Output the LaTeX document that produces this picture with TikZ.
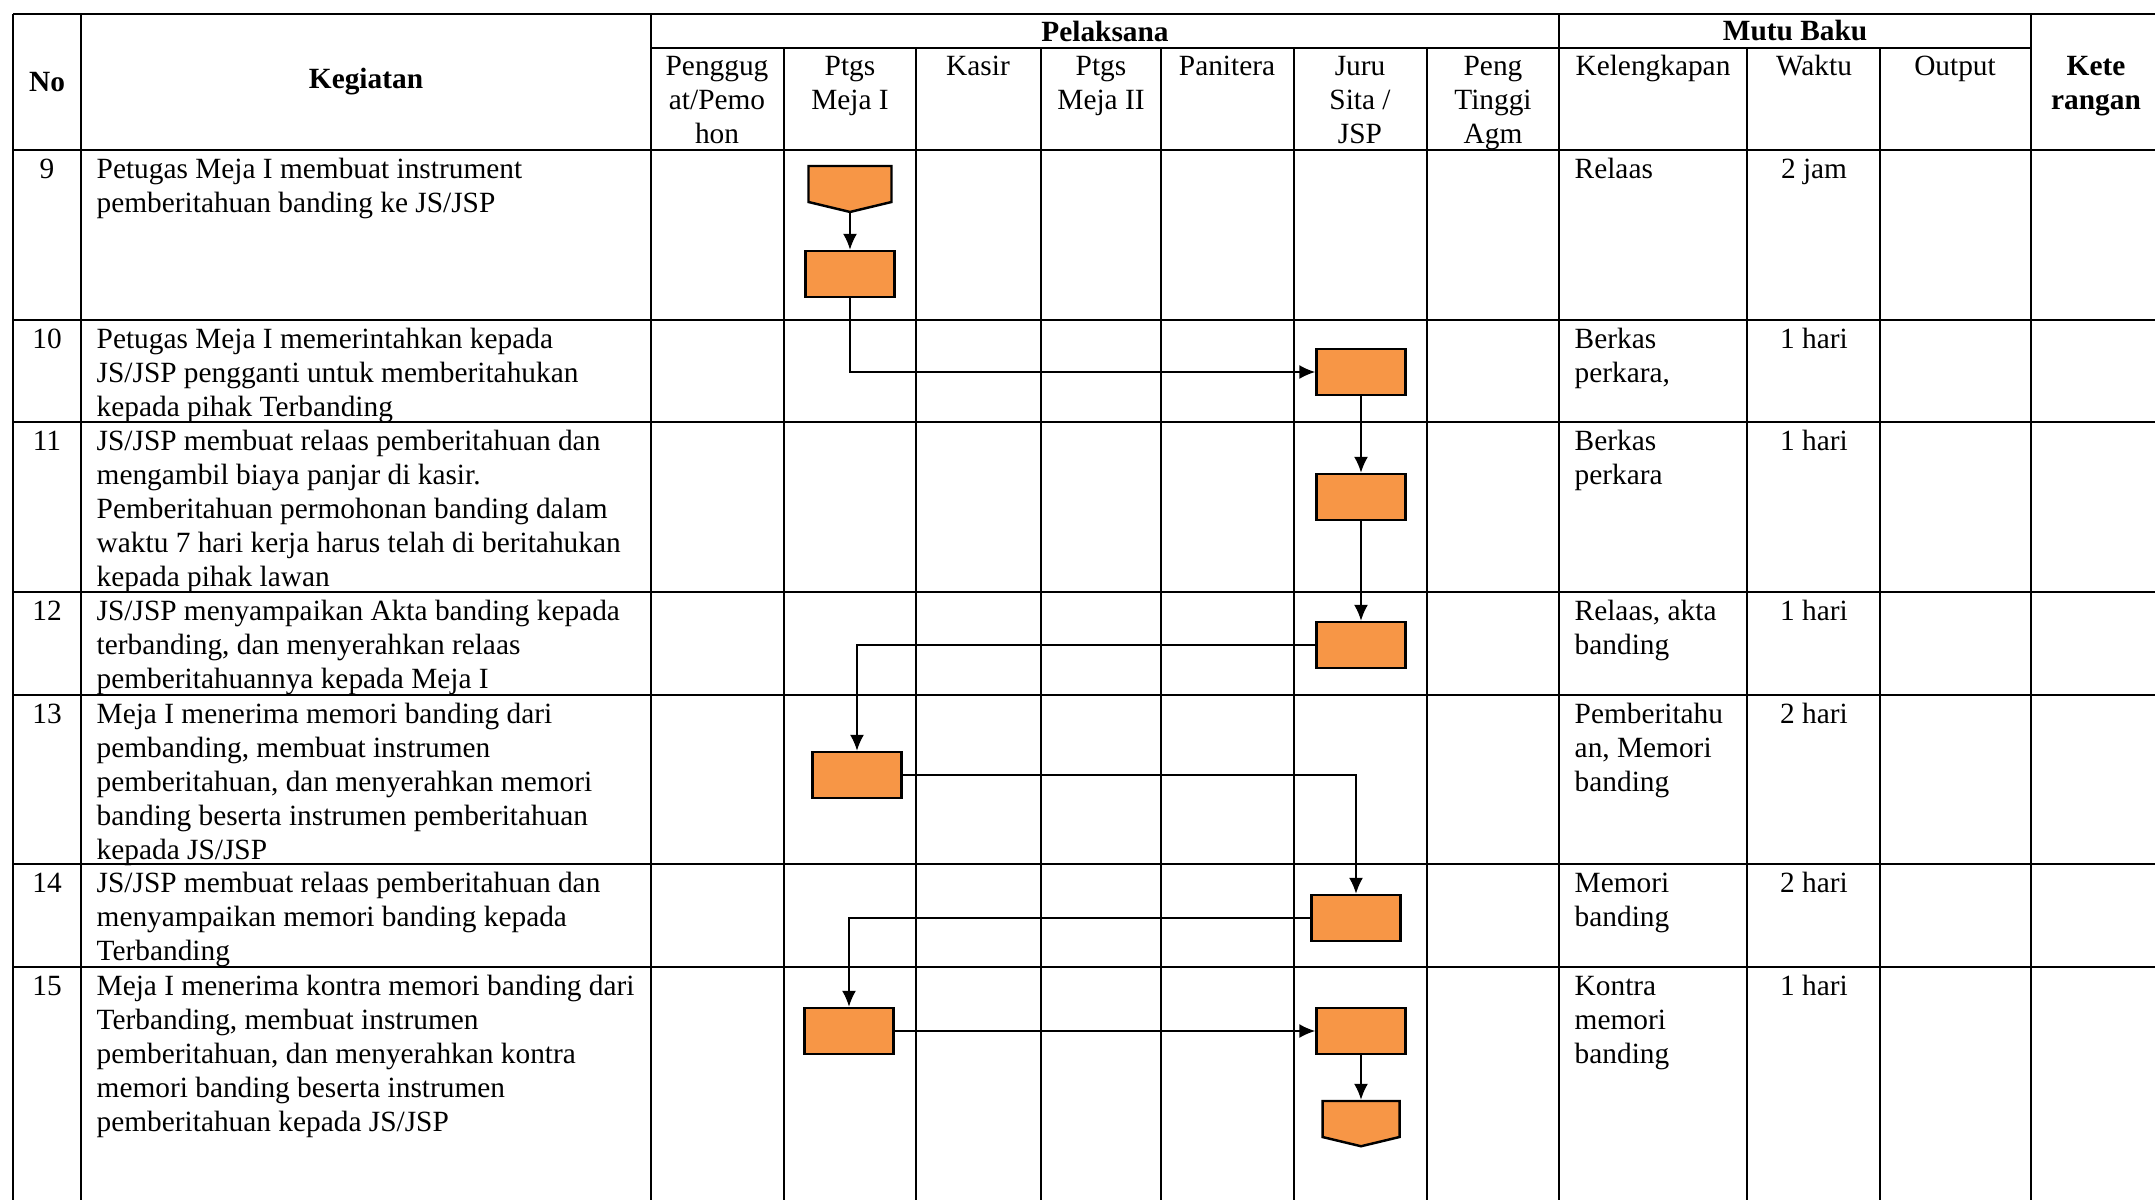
\documentclass[tikz,border=0pt]{standalone}
\usepackage{fontspec}
\setmainfont{Liberation Serif}
\usetikzlibrary{arrows.meta,shapes.symbols}
\newcommand{\cellfont}{\fontsize{8.35}{9.7}\selectfont}
\definecolor{flowfill}{RGB}{247,150,70}
\begin{document}
\begin{tikzpicture}[x=0.1mm, y=-0.1mm,
    grid/.style={line width=0.5pt},
    cell/.style={anchor=north west, inner sep=0pt, align=left, font=\cellfont},
    head/.style={anchor=north, inner sep=0pt, align=center, font=\cellfont},
    title/.style={inner sep=0pt, font=\cellfont\bfseries},
    proc/.style={draw, line width=0.7pt, fill=flowfill, minimum width=8.9mm, minimum height=4.6mm, inner sep=0pt},
    offpage/.style={draw, line width=0.7pt, fill=flowfill, shape=signal, signal to=south, signal pointer angle=153, minimum height=3.6mm, inner sep=0pt},
    flow/.style={line width=0.5pt, -{Latex[length=1.6mm, width=1.4mm]}}]
  \useasboundingbox (0,0) rectangle (2155,1200);
  % table lines
  \draw[grid] (13,14) -- (2155,14);
  \draw[grid] (651,48) -- (2031,48);
  \foreach \y in {150,320,422,592,695,864,967}
    \draw[grid] (13,\y) -- (2155,\y);
  \foreach \x in {13,81,651,1559,2031}
    \draw[grid] (\x,14) -- (\x,1200);
  \foreach \x in {784,916,1041,1161,1294,1427,1747,1880}
    \draw[grid] (\x,48) -- (\x,1200);
  % header
  \node[title] (no) at (47,82) {No};
  \node[title] (kegiatan) at (366,82) {Kegiatan};
  \node[title] (pelaksana) at (1105,31) {Pelaksana};
  \node[title] (mutubaku) at (1795,31) {Mutu Baku};
  \node[head, font=\cellfont\bfseries] (keterangan) at (2096,51) {\strut Kete\\rangan};
  \foreach \x/\name/\txt in {717/penggugat/{Penggug\\at/Pemo\\hon}, 850/mejaI/{Ptgs\\Meja I},
      978/kasir/{Kasir}, 1101/mejaII/{Ptgs\\Meja II}, 1227/panitera/{Panitera},
      1360/jurusita/{Juru\\Sita /\\JSP}, 1493/pta/{Peng\\Tinggi\\Agm},
      1653/kelengkapan/{Kelengkapan}, 1814/waktu/{Waktu}, 1955/output/{Output}}
    \node[head] (\name) at (\x,51) {\strut\txt};
  % rows
  \foreach \y/\n/\keg/\kel/\wkt in {
      150/9/{Petugas Meja I membuat instrument\\pemberitahuan banding ke JS/JSP}/{Relaas}/{2 jam},
      320/10/{Petugas Meja I memerintahkan kepada\\JS/JSP pengganti untuk memberitahukan\\kepada pihak Terbanding}/{Berkas\\perkara,}/{1 hari},
      422/11/{JS/JSP membuat relaas pemberitahuan dan\\mengambil biaya panjar di kasir.\\Pemberitahuan permohonan banding dalam\\waktu 7 hari kerja harus telah di beritahukan\\kepada pihak lawan}/{Berkas\\perkara}/{1 hari},
      592/12/{JS/JSP menyampaikan Akta banding kepada\\terbanding, dan menyerahkan relaas\\pemberitahuannya kepada Meja I}/{Relaas, akta\\banding}/{1 hari},
      695/13/{Meja I menerima memori banding dari\\pembanding, membuat instrumen\\pemberitahuan, dan menyerahkan memori\\banding beserta instrumen pemberitahuan\\kepada JS/JSP}/{Pemberitahu\\an, Memori\\banding}/{2 hari},
      864/14/{JS/JSP membuat relaas pemberitahuan dan\\menyampaikan memori banding kepada\\Terbanding}/{Memori\\banding}/{2 hari},
      967/15/{Meja I menerima kontra memori banding dari\\Terbanding, membuat instrumen\\pemberitahuan, dan menyerahkan kontra\\memori banding beserta instrumen\\pemberitahuan kepada JS/JSP}/{Kontra\\memori\\banding}/{1 hari}} {
    \node[head] (no\n) at (47,\y+3.5) {\strut\n};
    \node[cell] (keg\n) at (96,\y+3.5) {\strut\keg};
    \node[cell] (kel\n) at (1574,\y+3.5) {\strut\kel};
    \node[head] (wkt\n) at (1814,\y+3.5) {\strut\wkt};
  }
  % flow
  \node[offpage, minimum width=8.3mm] (start) at (850,184) {};
  \node[proc] (r9) at (850,274) {};
  \node[proc] (r10) at (1361,372) {};
  \node[proc] (r11) at (1361,497) {};
  \node[proc] (r12) at (1361,645) {};
  \node[proc] (r13) at (857,775) {};
  \node[proc] (r14) at (1356,918) {};
  \node[proc] (r15) at (849,1031) {};
  \node[proc] (r16) at (1361,1031) {};
  \node[offpage, minimum width=7.7mm] (end) at (1361,1119) {};
  \draw[flow] (start) -- (r9);
  \draw[flow] (r9) |- (r10);
  \draw[flow] (r10) -- (r11);
  \draw[flow] (r11) -- (r12);
  \draw[flow] (r12) -| (r13);
  \draw[flow] (r13) -| (r14);
  \draw[flow] (r14) -| (r15);
  \draw[flow] (r15) -- (r16);
  \draw[flow] (r16) -- (end);
\end{tikzpicture}
\end{document}
